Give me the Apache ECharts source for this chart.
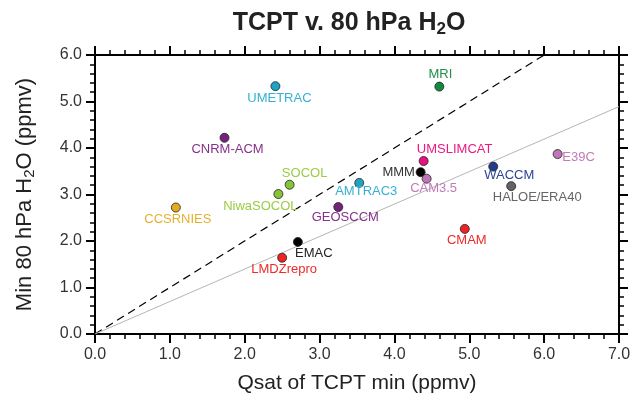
<!DOCTYPE html>
<html>
<head>
<meta charset="utf-8">
<script src="https://cdn.jsdelivr.net/npm/echarts@6/dist/echarts.min.js"></script>
<style>html,body{margin:0;padding:0;background:#fff}#c{width:634px;height:406px}</style>
</head>
<body>
<div id="c"></div>
<script>
// ---- data ----
var models = ['UMETRAC','MRI','CNRM-ACM','SOCOL','NiwaSOCOL','CCSRNIES','AMTRAC3','GEOSCCM','EMAC','LMDZrepro','UMSLIMCAT','MMM','CAM3.5','WACCM','HALOE/ERA40','E39C','CMAM'];
var qsatTCPT = [2.41, 4.60, 1.73, 2.60, 2.45, 1.08, 3.53, 3.25, 2.71, 2.50, 4.39, 4.35, 4.43, 5.32, 5.56, 6.18, 4.94];
var minH2O80 = [5.33, 5.32, 4.22, 3.21, 3.01, 2.72, 3.25, 2.73, 1.98, 1.64, 3.72, 3.48, 3.34, 3.60, 3.18, 3.87, 2.26];
var oneToOneX = [0, 6];
var oneToOneY = [0, 6];
var fitLineX = [0, 7];
var fitLineY = [0, 4.89];
var xTicks = ['0.0','1.0','2.0','3.0','4.0','5.0','6.0','7.0'];
var yTicks = ['0.0','1.0','2.0','3.0','4.0','5.0','6.0'];

// ---- styles ----
var styleByModel = {
  'UMETRAC':     {c:'#1fa3c4', lc:'#35b0d2', off:[4,12]},
  'MRI':         {c:'#128a3e', lc:'#1f8f45', off:[1,-12]},
  'CNRM-ACM':    {c:'#74237a', lc:'#86328a', off:[3,12]},
  'SOCOL':       {c:'#86c23a', lc:'#9ccc45', off:[15,-11]},
  'NiwaSOCOL':   {c:'#86c23a', lc:'#9ccc45', off:[-18,12]},
  'CCSRNIES':    {c:'#e6aa22', lc:'#e6b02e', off:[2,12]},
  'AMTRAC3':     {c:'#1fa3c4', lc:'#35b0d2', off:[7,9]},
  'GEOSCCM':     {c:'#74237a', lc:'#86328a', off:[7,10]},
  'EMAC':        {c:'#000000', lc:'#222222', off:[16,11]},
  'LMDZrepro':   {c:'#ec2424', lc:'#ee2a2a', off:[2,12]},
  'UMSLIMCAT':   {c:'#e8127e', lc:'#ec1a80', off:[31,-12]},
  'MMM':         {c:'#000000', lc:'#333333', off:[-22,0]},
  'CAM3.5':      {c:'#bf76b6', lc:'#c27ab9', off:[7,10]},
  'WACCM':       {c:'#233b8b', lc:'#2c4594', off:[16,9]},
  'HALOE/ERA40': {c:'#636363', lc:'#666666', off:[26,11]},
  'E39C':        {c:'#bf76b6', lc:'#c27ab9', off:[21,3]},
  'CMAM':        {c:'#ec2424', lc:'#ee2a2a', off:[2,12]}
};

var FONT = "'Liberation Sans', Arial, Helvetica, sans-serif";

var pts = models.map(function(m, i){
  var s = styleByModel[m];
  return {
    name: m,
    value: [qsatTCPT[i], minH2O80[i]],
    itemStyle: {color: s.c, borderColor: '#222', borderWidth: 0.8, opacity: 1},
    label: {show: true, formatter: m, position: 'inside',
            color: s.lc, fontSize: 13, fontFamily: FONT}
  };
});

var baseAxis = {
  min: 0, interval: 1,
  axisLine: {show: true, onZero: false, lineStyle: {color: '#000', width: 2}},
  axisTick: {show: true, inside: false, length: 9, lineStyle: {color: '#000', width: 2}},
  minorTick: {show: true, splitNumber: 5, length: 5, lineStyle: {color: '#000', width: 1.5}},
  splitLine: {show: false},
  axisLabel: {show: false}
};
function ax(extra){ return Object.assign(JSON.parse(JSON.stringify(baseAxis)), extra); }

var option = {
  animation: false,
  backgroundColor: '#fff',
  title: {
    text: '{t|TCPT v. 80 hPa H}{s|2}{t|O}',
    left: 344, top: 4, textAlign: 'center',
    textStyle: {
      rich: {
        t: {fontSize: 25, fontWeight: 'bold', color: '#222', fontFamily: FONT},
        s: {fontSize: 17, fontWeight: 'bold', color: '#222', fontFamily: FONT, padding: [12,0,0,0]}
      }
    }
  },
  grid: {left: 95, right: 15, top: 55, bottom: 72},
  xAxis: [
    ax({type: 'value', position: 'bottom', max: 7,
        axisLabel: {show: true, margin: 13, fontSize: 16, color: '#333', fontFamily: FONT,
                    formatter: function(v){ return xTicks[Math.round(v)]; }},
        name: 'Qsat of TCPT min (ppmv)', nameLocation: 'middle', nameGap: 39,
        nameTextStyle: {fontSize: 21, color: '#222', fontFamily: FONT}}),
    ax({type: 'value', position: 'top', max: 7})
  ],
  yAxis: [
    ax({type: 'value', position: 'left', max: 6,
        axisLabel: {show: true, margin: 13, fontSize: 16, color: '#333', fontFamily: FONT,
                    formatter: function(v){ return yTicks[Math.round(v)]; }},
        name: '{t|Min 80 hPa H}{s|2}{t|O (ppmv)}', nameLocation: 'middle', nameGap: 58,
        nameTextStyle: {rich: {
          t: {fontSize: 22, color: '#222', fontFamily: FONT},
          s: {fontSize: 15, color: '#222', fontFamily: FONT, padding: [10,0,0,0]}
        }}}),
    ax({type: 'value', position: 'right', max: 6})
  ],
  series: [
    {type: 'line', xAxisIndex: 0, yAxisIndex: 0, symbol: 'none', silent: true,
     data: oneToOneX.map(function(x, i){ return [x, oneToOneY[i]]; }),
     lineStyle: {color: '#000', width: 1.2, type: [8, 5]}, z: 1},
    {type: 'line', xAxisIndex: 0, yAxisIndex: 0, symbol: 'none', silent: true,
     data: fitLineX.map(function(x, i){ return [x, fitLineY[i]]; }),
     lineStyle: {color: '#b5b5b5', width: 1}, z: 1},
    {type: 'scatter', xAxisIndex: 0, yAxisIndex: 0, symbolSize: 9, data: pts, z: 3,
     labelLayout: function(p){
       var s = styleByModel[models[p.dataIndex]];
       return {dx: s.off[0], dy: s.off[1], hideOverlap: false};
     }}
  ]
};

var chart = echarts.init(document.getElementById('c'), null, {renderer: 'canvas'});
chart.setOption(option);
</script>
</body>
</html>
